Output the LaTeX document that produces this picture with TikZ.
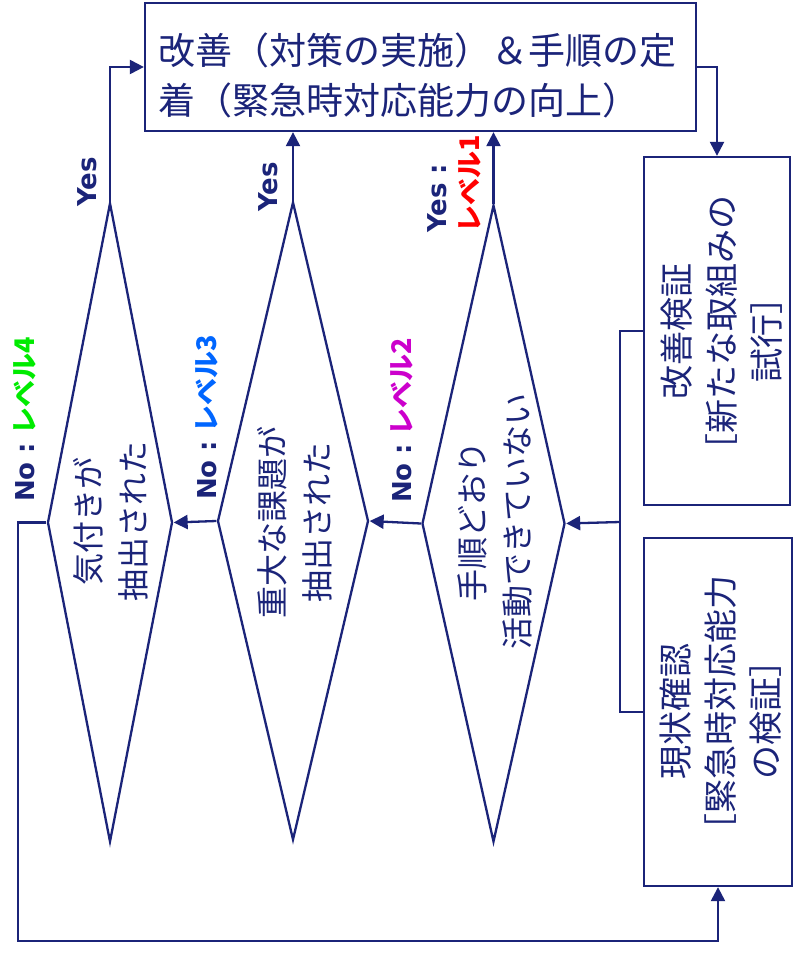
\documentclass[tikz,border=0pt]{standalone}
\usepackage{fontspec}
\setmainfont{Noto Sans CJK JP}
\newfontfamily\latb{DejaVu Sans}
\usetikzlibrary{shapes.geometric,arrows.meta}
\definecolor{navy}{RGB}{27,36,121}
\definecolor{lvone}{RGB}{255,0,0}
\definecolor{lvtwo}{RGB}{204,0,204}
\definecolor{lvthree}{RGB}{0,102,255}
\definecolor{lvfour}{RGB}{0,235,0}
\tikzset{
  conn/.style={draw=navy, line width=2.3pt},
  arr/.style={conn, -{Triangle[length=14pt,width=14pt]}},
  boxnode/.style={draw=navy, line width=2.3pt, inner sep=0, minimum width=#1},
  decision/.style={diamond, draw=navy, line width=2.3pt, inner sep=0, shape aspect=1},
  dtext/.style={rotate=90, align=center, text=navy, inner sep=0, font=\fontsize{32}{45}\selectfont},
  btext/.style={rotate=90, align=center, text=navy, inner sep=0, font=\fontsize{34}{45}\selectfont},
  lbl/.style={rotate=90, anchor=west, inner sep=0, text=navy, font=\fontsize{26}{30}\selectfont},
}
\begin{document}
\begin{tikzpicture}[x=1pt,y=-1pt]
\useasboundingbox[fill=white] (0,0) rectangle (795,953);

% top box
\node[boxnode=551pt, minimum height=128pt] (top) at (420.5,67) {};
\node[anchor=west, align=left, inner sep=0, text=navy, font=\fontsize{37}{50}\selectfont] (toptext) at (158,75)
  {改善（対策の実施）＆手順の定\\着（緊急時対応能力の向上）};

% right boxes
\node[boxnode=146pt, minimum height=348pt] (kaizen) at (717,331) {};
\node[btext] (kaizentext) at (722,331) {改善検証\\［新たな取組みの\\試行］};
\node[boxnode=148pt, minimum height=348pt] (genjo) at (718,712) {};
\node[btext] (genjotext) at (721,711) {現状確認\\［緊急時対応能力\\の検証］};

% decisions
\node[decision, minimum width=125pt, minimum height=639pt] (d1) at (110,522.5) {};
\node[decision, minimum width=151pt, minimum height=638pt] (d2) at (293,521) {};
\node[decision, minimum width=143pt, minimum height=637pt] (d3) at (493.5,523.5) {};
\node[dtext] (d1text) at (110.5,521) {気付きが\\抽出された};
\node[dtext] (d2text) at (295,522) {重大な課題が\\抽出された};
\node[dtext] (d3text) at (495,521) {手順どおり\\活動できていない};

% labels
\node[lbl] (yes1) at (87,207) {\latb\bfseries Yes};
\node[lbl] (yes2) at (268,212) {\latb\bfseries Yes};
\node[lbl] (yes3) at (437,233) {\latb\bfseries Yes :};
\node[lbl, text=lvone, font=\fontsize{27}{30}\selectfont\bfseries] (lv1) at (470,233) {レベル1};
\node[lbl] (no4) at (25,502) {{\latb\bfseries No :} {\color{lvfour}\fontsize{27}{30}\selectfont\bfseries レベル4}};
\node[lbl] (no3) at (207,500) {{\latb\bfseries No :} {\color{lvthree}\fontsize{27}{30}\selectfont\bfseries レベル3}};
\node[lbl] (no2) at (402,503) {{\latb\bfseries No :} {\color{lvtwo}\fontsize{27}{30}\selectfont\bfseries レベル2}};

% connectors
\coordinate (jx) at (620,522);
\coordinate (bl) at (18,941);
\draw[arr] (d1.north) |- (top.west);
\draw[arr] (d2.north) -- (d2.north |- top.south);
\draw[arr] (d3.north) -- (d3.north |- top.south);
\draw[arr] (top.east) -| (kaizen.north);
\draw[conn] (kaizen.west) -| (jx) |- (genjo.west);
\draw[arr] (jx) -- (d3.east);
\draw[arr] (d3.west) -- (d2.east);
\draw[arr] (d2.west) -- (d1.east);
\draw[arr] (d1.west) -| (bl) -| (genjo.south);
\end{tikzpicture}
\end{document}
